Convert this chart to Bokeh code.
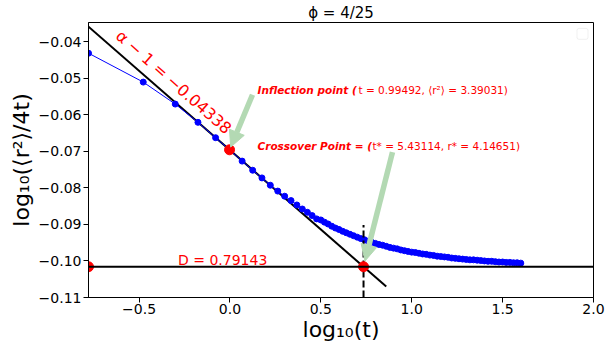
import math
from bokeh.plotting import figure
from bokeh.models import Span, Arrow, NormalHead, FixedTicker, BoxAnnotation
from bokeh.core.properties import value
from bokeh.embed import file_html
from bokeh.resources import INLINE

# ---- data ----
log_t = [-0.778, -0.477, -0.301, -0.176, -0.079, 0.0, 0.067, 0.125, 0.176, 0.222,
         0.263, 0.301, 0.336, 0.368, 0.398, 0.426, 0.452, 0.477,
         0.50, 0.52, 0.54, 0.56, 0.58, 0.60, 0.62, 0.64, 0.66, 0.68,
         0.70, 0.72, 0.74, 0.76, 0.78, 0.80, 0.82, 0.84, 0.86, 0.88,
         0.90, 0.92, 0.94, 0.96, 0.98, 1.00, 1.02, 1.04, 1.06, 1.08,
         1.10, 1.12, 1.14, 1.16, 1.18, 1.20, 1.22, 1.24, 1.26, 1.28,
         1.30, 1.32, 1.34, 1.36, 1.38, 1.40, 1.42, 1.44, 1.46, 1.48,
         1.50, 1.52, 1.54, 1.56, 1.58, 1.60]
log_msd = [-0.0432, -0.0511, -0.0571, -0.0621, -0.0663, -0.0697, -0.0727, -0.0752, -0.0773, -0.0793,
           -0.0809, -0.0823, -0.0835, -0.0847, -0.0858, -0.0867, -0.0876, -0.0885,
           -0.0888, -0.0894, -0.0899, -0.0905, -0.0910, -0.0914, -0.0919, -0.0923, -0.0927, -0.0931,
           -0.0935, -0.0939, -0.0942, -0.0946, -0.0949, -0.0952, -0.0955, -0.0957, -0.0960, -0.0963,
           -0.0965, -0.0967, -0.0970, -0.0972, -0.0974, -0.0976, -0.0977, -0.0979, -0.0981, -0.0982,
           -0.0984, -0.0985, -0.0987, -0.0988, -0.0989, -0.0990, -0.0992, -0.0993, -0.0994, -0.0995,
           -0.0996, -0.0997, -0.0997, -0.0998, -0.0999, -0.1000, -0.1001, -0.1001, -0.1002, -0.1003,
           -0.1003, -0.1004, -0.1004, -0.1005, -0.1005, -0.1006]

t_min = 1 / 6
t_fit_end = 7.24
t_infl = 0.99492
r2_infl = 3.39031
t_cross = 5.43114
r_cross = 4.14651
D = 0.79143
slope = -0.04338
title_text = "ϕ = 4/25"

x_ticks = [-0.5, 0.0, 0.5, 1.0, 1.5, 2.0]
x_tick_labels = ["−0.5", "0.0", "0.5", "1.0", "1.5", "2.0"]
y_ticks = [-0.11, -0.10, -0.09, -0.08, -0.07, -0.06, -0.05, -0.04]
y_tick_labels = ["−0.11", "−0.10", "−0.09", "−0.08", "−0.07", "−0.06", "−0.05", "−0.04"]

# ---- layout ----
W, H = 605, 356
ML, MR, MT, MB = 88, 12, 19, 59
X0, X1 = math.log10(t_min), 2.0
Y0, Y1 = -0.11, -0.0348
FW, FH = W - ML - MR, H - MT - MB

def dx(px):
    return X0 + (px - ML) / FW * (X1 - X0)

def dy(py):
    return Y1 - (py - MT) / FH * (Y1 - Y0)

FONT = "DejaVu Sans"

p = figure(width=W, height=H, x_range=(X0, X1), y_range=(Y0, Y1),
           output_backend="svg", toolbar_location=None,
           min_border_left=ML, min_border_right=MR, min_border_top=MT, min_border_bottom=MB,
           background_fill_color="white", border_fill_color="white")
p.grid.visible = False
p.outline_line_color = "black"
p.outline_line_width = 1

p.title.text = title_text
p.title.align = "center"
p.title.text_font = FONT
p.title.text_font_size = "15px"
p.title.text_font_style = "normal"
p.title.text_color = "black"
p.title.standoff = 2
p.title.offset = 0

for ax in (p.xaxis[0], p.yaxis[0]):
    ax.axis_line_color = "black"
    ax.major_tick_line_color = "black"
    ax.minor_tick_line_color = None
    ax.major_tick_out = 5
    ax.major_tick_in = 0
    ax.major_label_text_font = FONT
    ax.major_label_text_font_size = "14px"
    ax.major_label_text_color = "black"
    ax.axis_label_text_font = FONT
    ax.axis_label_text_font_size = "22px"
    ax.axis_label_text_font_style = "normal"
    ax.axis_label_text_color = "black"

p.xaxis.ticker = FixedTicker(ticks=x_ticks)
p.xaxis.major_label_overrides = {t: l for t, l in zip(x_ticks, x_tick_labels)}
p.yaxis.ticker = FixedTicker(ticks=y_ticks)
p.yaxis.major_label_overrides = {t: l for t, l in zip(y_ticks, y_tick_labels)}
p.xaxis.axis_label = "log₁₀(t)"
p.yaxis.axis_label = "log₁₀(⟨r²⟩/4t)"
p.xaxis.major_label_standoff = 1
p.xaxis.axis_label_standoff = 0
p.yaxis.major_label_standoff = 2
p.yaxis.axis_label_standoff = 2

# ---- derived points ----
x_inf = math.log10(t_infl)
y_inf = math.log10(r2_infl / (4 * t_infl))
x_cross = math.log10(t_cross)
y_D = math.log10(D)

# horizontal D line
p.add_layout(Span(location=y_D, dimension="width", line_color="black", line_width=2))

# fitted slope line
fit_x = [math.log10(t_min), math.log10(t_fit_end)]
fit_y = [y_inf + slope * (x - x_inf) for x in fit_x]
p.line(fit_x, fit_y, line_color="black", line_width=2)

# data
p.line(log_t, log_msd, line_color="blue", line_width=1)
p.scatter(log_t, log_msd, size=6, fill_color="blue", line_color="blue")

# vertical dashed line at crossover
p.segment(x0=[x_cross], y0=[Y0], x1=[x_cross], y1=[-0.0902],
          line_color="black", line_width=2, line_dash="7 3")

# red points
p.scatter([x_inf, x_cross, math.log10(t_min)], [y_inf, y_D, y_D],
          size=10, fill_color="red", line_color="red")

# arrows
GREEN = "#b3d9b3"
def arrow(sx, sy, tx, ty):
    ex = tx + 0.05 * (sx - tx)
    ey = ty + 0.05 * (sy - ty)
    p.add_layout(Arrow(end=NormalHead(size=16, fill_color=GREEN, line_color=GREEN),
                       x_start=sx, y_start=sy, x_end=ex, y_end=ey,
                       line_color=GREEN, line_width=5.5))

arrow(dx(252), dy(92), x_inf, y_inf)
arrow(dx(392), dy(150), x_cross, y_D)

# texts
def txt(px, py, s, size, style="normal", angle=0.0):
    p.text([dx(px)], [dy(py)], text=[s], angle=angle, angle_units="deg",
           text_font=value(FONT), text_font_size=size, text_font_style=style,
           text_color="red", text_align="left", text_baseline="alphabetic")

txt(118, 30, "α − 1 = −0.04338", "16px", angle=-41.4)

txt(257, 87, "Inflection point (", "10.5px", "bold italic")
txt(358, 87, "t = 0.99492, ⟨r²⟩ = 3.39031)", "10.5px")

txt(257, 144, "Crossover Point = (", "10.5px", "bold italic")
txt(372, 144, "t* = 5.43114, r* = 4.14651)", "10.5px")

txt(177.5, 259, "D = 0.79143", "14px")

# empty legend frame
p.add_layout(BoxAnnotation(left=dx(576.5), right=dx(587.5), top=dy(25), bottom=dy(36),
                           fill_color="white", fill_alpha=0.8, line_color="#cccccc",
                           line_width=1, border_radius=2))

open("out.html", "w").write(file_html(p, INLINE))
